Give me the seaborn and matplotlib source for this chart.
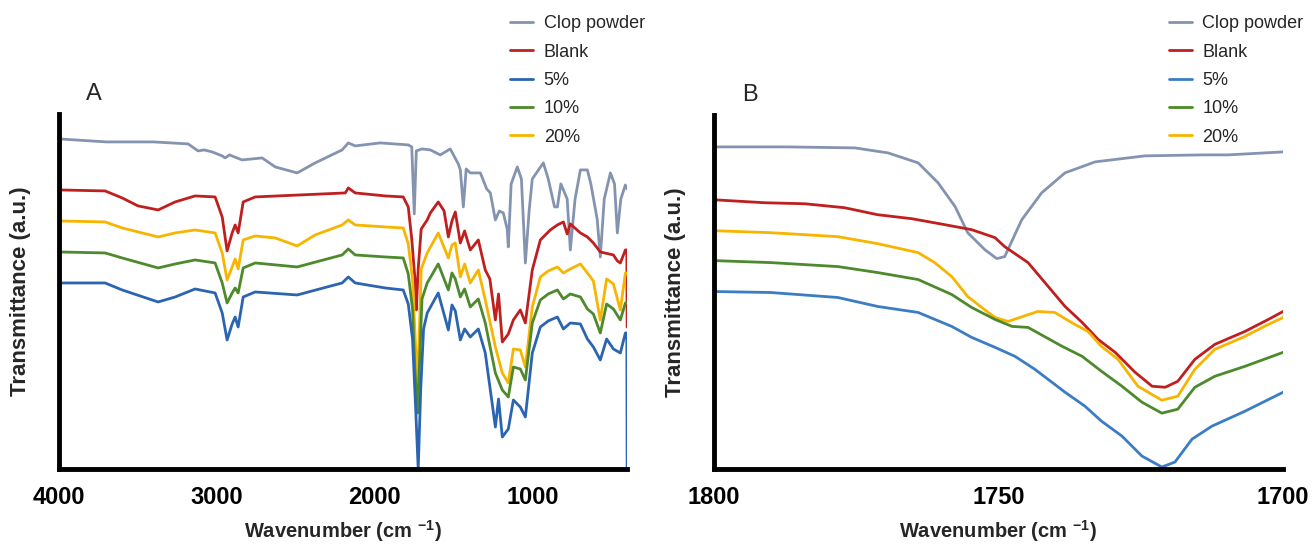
import numpy as np
import pandas as pd
import matplotlib
matplotlib.use('Agg')
import matplotlib.pyplot as plt
import seaborn as sns

# ---- panel A: full spectra (wavenumber, transmittance a.u.) ----
clop_a_wn = [4000, 3700, 3400, 3182, 3119, 3080, 3030, 2966, 2947, 2920, 2840, 2713, 2630, 2491, 2377,
             2206, 2167, 2123, 1965, 1787, 1765, 1749, 1736, 1700, 1647, 1584, 1521, 1470, 1457, 1438,
             1420, 1394, 1330, 1290, 1267, 1235, 1210, 1185, 1160, 1153, 1135, 1096, 1070, 1055, 1045,
             1020, 1001, 931, 900, 860, 842, 820, 780, 760, 730, 696, 652, 630, 590, 570, 545, 506,
             480, 462, 440, 411, 400]
clop_a = [330, 327, 327, 325, 318, 319, 317, 313, 311, 314, 309, 311, 302, 296, 306,
          319, 326, 323, 326, 324, 322, 255, 318, 320, 319, 314, 320, 305, 299, 262,
          300, 296, 296, 280, 276, 249, 258, 256, 240, 222, 285, 302, 290, 240, 206,
          260, 290, 306, 290, 262, 262, 285, 270, 219, 270, 299, 299, 285, 250, 212, 270, 296,
          285, 236, 270, 284, 280]

blank_a_wn = [4000, 3708, 3600, 3499, 3372, 3264, 3138, 3011, 2966, 2935, 2903, 2884, 2865, 2833, 2757,
              2186, 2167, 2123, 1933, 1819, 1787, 1765, 1742, 1736, 1724, 1705, 1667, 1647, 1597, 1560,
              1533, 1510, 1489, 1457, 1430, 1394, 1343, 1299, 1270, 1235, 1215, 1191, 1153, 1121, 1077,
              1045, 1001, 950, 887, 842, 804, 780, 760, 696, 652, 614, 570, 487, 462, 443, 411, 402, 400]
blank_a = [279, 278, 271, 263, 259, 267, 273, 272, 252, 218, 236, 244, 236, 267, 272,
           276, 281, 276, 273, 272, 262, 230, 185, 159, 200, 240, 249, 256, 267, 258,
           232, 248, 257, 226, 238, 219, 229, 199, 190, 149, 175, 127, 135, 149, 159,
           146, 199, 229, 239, 244, 247, 235, 245, 236, 232, 226, 217, 214, 208, 206, 219, 219, 142]

p20_a_wn = [4000, 3708, 3600, 3372, 3264, 3138, 3011, 2966, 2935, 2903, 2884, 2865, 2833, 2757, 2630,
            2491, 2377, 2206, 2167, 2123, 1933, 1819, 1787, 1760, 1740, 1730, 1718, 1705, 1667, 1597,
            1533, 1510, 1489, 1457, 1430, 1394, 1343, 1299, 1235, 1191, 1153, 1121, 1077, 1045, 1001,
            950, 900, 842, 804, 760, 696, 652, 614, 570, 530, 487, 443, 411, 400]
p20_a = [248, 247, 241, 232, 236, 239, 236, 216, 189, 202, 210, 200, 229, 233, 231,
         223, 234, 244, 249, 244, 242, 241, 225, 190, 120, 85, 130, 200, 216, 236,
         211, 224, 226, 192, 205, 186, 199, 169, 122, 96, 86, 120, 119, 102, 162,
         192, 198, 202, 196, 200, 205, 196, 188, 149, 190, 185, 159, 196, 196]

p10_a_wn = [4000, 3708, 3600, 3372, 3264, 3138, 3011, 2966, 2935, 2903, 2884, 2865, 2833, 2757, 2491,
            2206, 2167, 2123, 1933, 1819, 1787, 1760, 1745, 1728, 1712, 1700, 1667, 1597, 1533, 1510,
            1489, 1457, 1430, 1394, 1343, 1299, 1235, 1191, 1153, 1121, 1077, 1045, 1001, 950, 900,
            842, 804, 760, 696, 652, 614, 570, 530, 487, 443, 411, 400]
p10_a = [217, 216, 211, 201, 205, 209, 206, 186, 166, 176, 181, 176, 201, 206, 202,
         214, 220, 214, 212, 211, 195, 160, 100, 56, 120, 170, 186, 205, 179, 196,
         190, 172, 180, 162, 170, 146, 96, 79, 72, 102, 100, 89, 146, 169, 175,
         179, 170, 175, 172, 160, 155, 136, 165, 160, 149, 166, 166]

p5_a_wn = [4000, 3708, 3600, 3372, 3264, 3138, 3011, 2966, 2935, 2903, 2884, 2865, 2833, 2757, 2491,
           2206, 2167, 2123, 1933, 1819, 1787, 1760, 1740, 1724, 1708, 1690, 1667, 1597, 1533, 1510,
           1489, 1457, 1430, 1394, 1343, 1299, 1235, 1215, 1191, 1153, 1121, 1077, 1045, 1001, 950,
           900, 842, 804, 760, 696, 652, 614, 570, 530, 487, 443, 411, 402, 400]
p5_a = [186, 186, 179, 167, 172, 180, 176, 156, 129, 145, 152, 142, 172, 177, 174,
        186, 192, 186, 181, 179, 165, 130, 60, 0, 80, 140, 156, 176, 139, 164,
        158, 129, 140, 132, 140, 116, 42, 70, 32, 40, 69, 62, 52, 116, 142,
        148, 152, 140, 146, 145, 130, 122, 109, 130, 120, 116, 136, 136, 0]

# ---- panel B: carbonyl region 1800-1700 ----
clop_b_wn = [1800, 1787, 1775.2, 1769.4, 1764.1, 1760.6, 1757.6, 1755.4, 1752.4, 1750.3, 1748.9, 1745.9,
             1742.4, 1738.3, 1733.0, 1724.3, 1714.2, 1709.7, 1700]
clop_b = [323, 323, 322, 317, 307, 287, 263, 237, 220, 211, 213, 250, 277, 297, 308, 314, 315, 315, 318]

blank_b_wn = [1800, 1791, 1784, 1777, 1771.2, 1765.2, 1759.4, 1754.7, 1750.6, 1748.9, 1744.8, 1738.3,
              1735.3, 1732.5, 1729.5, 1726, 1723, 1720.7, 1718.5, 1715.5, 1712, 1706.7, 1702.6, 1700]
blank_b = [270, 267, 266, 262, 255, 251, 245, 240, 232, 223, 207, 163, 147, 130, 117, 97, 83, 82, 88,
           110, 125, 138, 150, 158]

p20_b_wn = [1800, 1790, 1778.2, 1771.2, 1764.1, 1761.2, 1758.2, 1755.4, 1751.8, 1750.6, 1748.3, 1743.1,
            1740.1, 1737.2, 1734.3, 1731.9, 1729, 1725.5, 1721.3, 1718.5, 1715.5, 1712, 1706.7, 1702.6, 1700]
p20_b = [239, 237, 233, 226, 217, 207, 193, 173, 157, 152, 148, 158, 157, 147, 138, 123, 110, 83, 69, 73,
         100, 120, 133, 145, 152]

p10_b_wn = [1800, 1790, 1778.2, 1771.2, 1764.1, 1758.2, 1754.7, 1750.6, 1747.6, 1744.8, 1738.8, 1735.3,
            1731.9, 1728.3, 1724.8, 1721.3, 1718.5, 1715.5, 1712, 1706.7, 1700]
p10_b = [209, 207, 203, 197, 190, 175, 162, 150, 143, 142, 123, 113, 98, 83, 67, 56, 60, 82, 93, 103, 117]

p5_b_wn = [1800, 1790, 1778.2, 1771.2, 1764.1, 1758.2, 1754.7, 1750.6, 1747.1, 1743.6, 1738.3, 1734.8,
           1731.9, 1728.3, 1724.8, 1721.3, 1719, 1716, 1712.5, 1706.7, 1700]
p5_b = [178, 177, 172, 163, 157, 143, 132, 122, 113, 100, 77, 63, 48, 33, 13, 2, 7, 30, 43, 58, 77]

labels = ['Clop powder', 'Blank', '5%', '10%', '20%']
col = {'Clop powder': '#8494b0', 'Blank': '#c01f1f', '5%': '#2b64b0', '10%': '#4d8a2c', '20%': '#f7b500'}
col_b = dict(col)
col_b['5%'] = '#3b7dc4'

panel_a = {'Clop powder': (clop_a_wn, clop_a), 'Blank': (blank_a_wn, blank_a), '20%': (p20_a_wn, p20_a),
           '10%': (p10_a_wn, p10_a), '5%': (p5_a_wn, p5_a)}
panel_b = {'Clop powder': (clop_b_wn, clop_b), 'Blank': (blank_b_wn, blank_b), '20%': (p20_b_wn, p20_b),
           '10%': (p10_b_wn, p10_b), '5%': (p5_b_wn, p5_b)}

sns.set_style('white')
plt.rcParams['font.family'] = ['Liberation Sans', 'DejaVu Sans']
plt.rcParams['mathtext.fontset'] = 'custom'
plt.rcParams['mathtext.rm'] = 'Liberation Sans:bold'
plt.rcParams['mathtext.bf'] = 'Liberation Sans:bold'

fig = plt.figure(figsize=(13.12, 5.45), dpi=100)
axA = fig.add_axes([0.045, 0.1394, 0.433, 0.6516])
axB = fig.add_axes([0.544, 0.1394, 0.434, 0.6496])


def draw(ax, panel, colors, xlim, xticks, leg_x):
    for name, (wn, tr) in panel.items():
        sns.lineplot(x=wn, y=tr, ax=ax, color=colors[name], linewidth=2.0, sort=False,
                     estimator=None, label=name)
    ax.set_xlim(*xlim)
    ax.set_ylim(0, 355)
    ax.set_xticks(xticks)
    ax.set_xticklabels([str(t) for t in xticks], fontsize=17, fontweight='bold')
    ax.set_yticks([])
    for s in ['top', 'right']:
        ax.spines[s].set_visible(False)
    for s in ['left', 'bottom']:
        ax.spines[s].set_linewidth(3.5)
        ax.spines[s].set_color('black')
    ax.tick_params(axis='x', direction='out', length=8, width=3.5, pad=4, colors='black')
    ax.set_xlabel(r'Wavenumber (cm $^{-1}$)', fontsize=14.5, fontweight='bold', labelpad=7)
    ax.set_ylabel('Transmittance (a.u.)', fontsize=16, fontweight='bold', labelpad=20)
    h, l = ax.get_legend_handles_labels()
    order = [l.index(n) for n in labels]
    ax.legend([h[i] for i in order], [l[i] for i in order], loc='upper left',
              bbox_to_anchor=(leg_x, 0.972), bbox_transform=fig.transFigure, frameon=False,
              fontsize=13, handlelength=1.25, handletextpad=0.6, labelspacing=0.63,
              borderpad=0, borderaxespad=0)


draw(axA, panel_a, col, (4000, 400), [4000, 3000, 2000, 1000], 0.389)
draw(axB, panel_b, col_b, (1800, 1700), [1800, 1750, 1700], 0.891)

fig.text(0.0716, 0.8275, 'A', fontsize=17, ha='center', va='center')
fig.text(0.5716, 0.8257, 'B', fontsize=17, ha='center', va='center')

fig.savefig('out.png', dpi=100)
